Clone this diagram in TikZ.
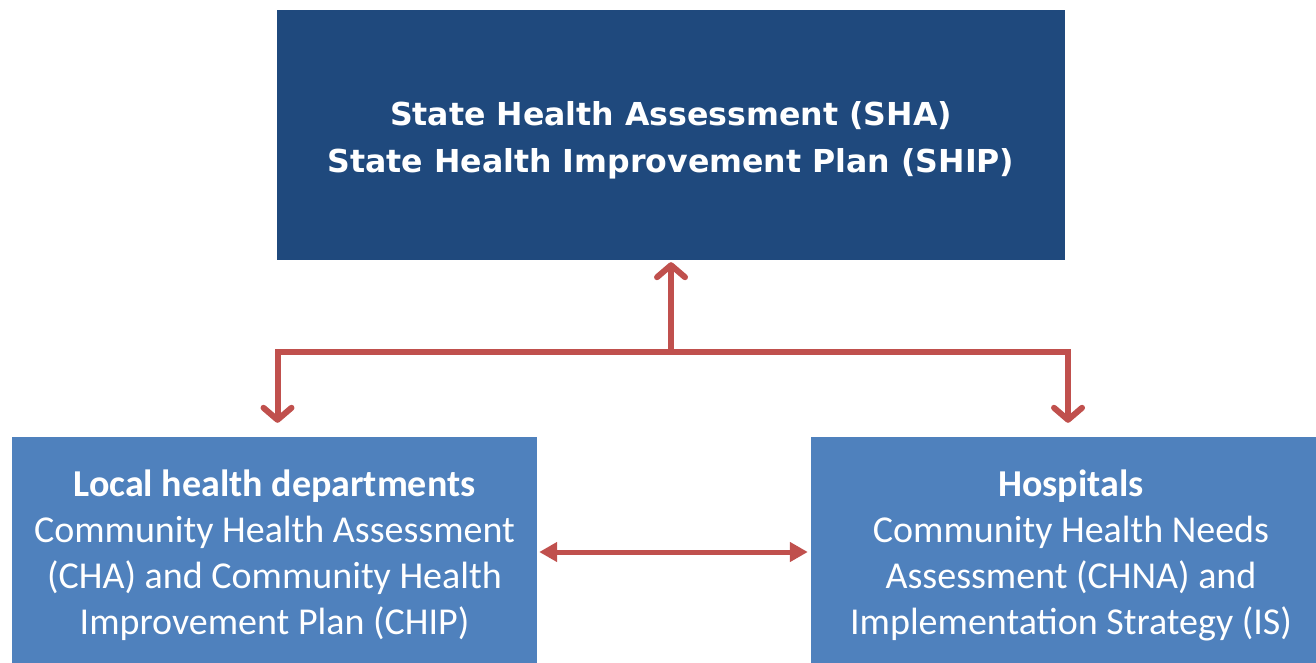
\documentclass[tikz,border=0pt]{standalone}
\usepackage{fontspec}
\setmainfont{Carlito}
\newfontfamily\statefont{DejaVu Sans}
\usetikzlibrary{arrows.meta, positioning}
\definecolor{statebl}{HTML}{1F497D}
\definecolor{localbl}{HTML}{4F81BD}
\definecolor{linkred}{HTML}{C0504D}

\begin{document}
\begin{tikzpicture}[
    x=1pt, y=-1pt,
    statebox/.style={rectangle, fill=statebl, text=white, align=center, minimum width=788pt, minimum height=250pt, font=\statefont\bfseries\fontsize{31.6}{47}\selectfont},
    localbox/.style={rectangle, fill=localbl, text=white, align=center, minimum height=236pt, font=\fontsize{38}{46}\selectfont},
    uparrow/.style={-{Straight Barb[length=12pt, width=28pt, round]}, line width=6pt, draw=linkred},
    botharrow/.style={{Triangle[length=18pt, width=19pt]}-{Triangle[length=18pt, width=19pt]}, line width=5pt, draw=linkred}
]
\useasboundingbox (0,0) rectangle (1316,663);
\clip (0,0) rectangle (1316,663);

% Top box - state level
\node[statebox] (sha) at (671,135) {\raisebox{-5pt}[\height][\depth]{\begin{tabular}{@{}c@{}}State Health Assessment (SHA)\\State Health Improvement Plan (SHIP)\end{tabular}}};

% Bottom boxes - local level
\node[localbox, minimum width=525pt] (lhd) at (274.5,555) {\textbf{Local health departments}\\Community Health Assessment\\(CHA) and Community Health\\Improvement Plan (CHIP)};
\node[localbox, minimum width=520pt] (hosp) at (1071,555) {\textbf{Hospitals}\\Community Health Needs\\Assessment (CHNA) and\\Implementation Strategy (IS)};

% Arrows
\coordinate (hub) at (671,352);
\draw[uparrow, shorten >=2pt] (hub) -- (sha.south);
\draw[uparrow, shorten >=14pt] (hub) -| ([xshift=3pt]lhd.north);
\draw[uparrow, shorten >=14pt] (hub) -| ([xshift=-3pt]hosp.north);
\draw[botharrow, shorten <=2pt, shorten >=3pt] (lhd.east |- 0,552) -- (hosp.west |- 0,552);

\end{tikzpicture}
\end{document}
